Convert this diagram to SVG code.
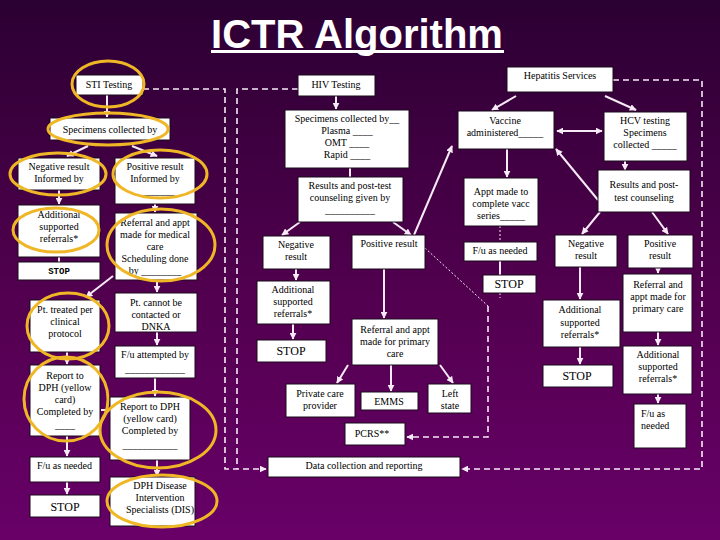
<svg xmlns="http://www.w3.org/2000/svg" width="720" height="540" viewBox="0 0 720 540">
<defs>
<linearGradient id="bg" x1="0" y1="0" x2="0" y2="1">
<stop offset="0" stop-color="#2b0032"/>
<stop offset="0.55" stop-color="#52004f"/>
<stop offset="1" stop-color="#680068"/>
</linearGradient>
<marker id="ah" viewBox="0 0 10 10" refX="9" refY="5" markerWidth="7" markerHeight="7" markerUnits="userSpaceOnUse" orient="auto-start-reverse">
<path d="M0,0 L10,5 L0,10 z" fill="#f6eaf6"/>
</marker>
<style>
.b{fill:#fff;stroke:#1a0a1a;stroke-width:1}
.t{font-family:"Liberation Serif","Times New Roman",serif;font-size:10px;fill:#000;text-anchor:middle}
.l{text-anchor:start}
.s{font-size:12px}
.m{font-family:"Liberation Mono","Courier New",monospace;font-size:9px;font-weight:bold}
.e{fill:none;stroke:#efb626;stroke-width:3}
.c{fill:none;stroke:#f6eaf6;stroke-width:2}
.a{marker-end:url(#ah)}
.d{fill:none;stroke:#f6eaf6;stroke-width:1.6;stroke-dasharray:6 4}
.dt{fill:none;stroke:#f6eaf6;stroke-width:1;stroke-dasharray:2 2}
</style>
</defs>
<rect width="720" height="540" fill="url(#bg)"/>
<g id="title">
<text x="357" y="48" font-family="Liberation Sans, Arial, sans-serif" font-size="40" font-weight="bold" fill="#fff" text-anchor="middle">ICTR Algorithm</text>
<rect x="211" y="50" width="293" height="3" fill="#fff"/>
</g>
<g id="connectors">
<path class="d" d="M143,89 H225 V469 H266" marker-end="url(#ah)"/>
<path class="d" d="M298,89 H237 V469"/>
<path class="d" d="M613,80 H702 V469 H462" marker-end="url(#ah)"/>
<path class="dt" d="M425,248 L488,306"/>
<path class="d" d="M488,306 V437 H407" marker-end="url(#ah)"/>
<path class="c a" d="M107,95 V117"/>
<path class="c a" d="M88,146 L67,156"/>
<path class="c a" d="M132,146 L157,156"/>
<path class="c a" d="M59,190 V204"/>
<path class="c" d="M59,257 V262"/>
<path class="c a" d="M155,204 V212"/>
<path class="c a" d="M113,276 L86,297"/>
<path class="c a" d="M157,280 V292"/>
<path class="c a" d="M157,332 V345"/>
<path class="c a" d="M155,378 V396"/>
<path class="c a" d="M67,352 V364"/>
<path class="c" d="M101,410 H109" stroke-width="1"/>
<path class="c a" d="M67,436 V456"/>
<path class="c a" d="M67,482 V494"/>
<path class="c a" d="M157,460 V476"/>
<path class="c a" d="M336,96 V109"/>
<path class="c" d="M350,168 V177"/>
<path class="c a" d="M300,222 L282,235"/>
<path class="c a" d="M393,222 L411,235"/>
<path class="c a" d="M414,235 L452,146"/>
<path class="c a" d="M296,269 V280"/>
<path class="c a" d="M293,324 V339"/>
<path class="c a" d="M384,269 V318"/>
<path class="c a" d="M348,365 L337,383"/>
<path class="c a" d="M391,365 V391"/>
<path class="c a" d="M440,365 L453,383"/>
<path class="c a" d="M516,96 L492,110"/>
<path class="c a" d="M605,96 L636,110"/>
<path class="c a" d="M557,131 H602" marker-start="url(#ah)"/>
<path class="c a" d="M507,149 V177"/>
<path class="dt" d="M500,226 V242" stroke-width="2"/>
<path class="c" d="M500,261 V275"/>
<path class="dt" d="M500,293 V298" stroke-width="2"/>
<path class="c a" d="M625,161 V170"/>
<path class="c a" d="M598,200 L556,149"/>
<path class="c a" d="M600,212 L582,234"/>
<path class="c a" d="M652,212 L668,234"/>
<path class="c a" d="M580,267 V299"/>
<path class="c a" d="M658,268 V273"/>
<path class="c a" d="M658,332 V345"/>
<path class="c a" d="M580,347 V364"/>
<path class="c a" d="M658,394 V403"/>
</g>
<g id="n-sti"><rect class="b" x="76" y="75" width="67" height="20"/><text class="t" x="109" y="88">STI Testing</text><ellipse class="e" cx="108" cy="84" rx="36" ry="23"/></g>
<g id="n-spec1"><rect class="b" x="50" y="118" width="120" height="22"/><text class="t" x="110" y="133">Specimens collected by</text><ellipse class="e" cx="108" cy="129" rx="60" ry="16"/></g>
<g id="n-neg1"><rect class="b" x="18" y="158" width="82" height="32"/><text class="t" x="59" y="170">Negative result</text><text class="t" x="59" y="182">Informed by</text><ellipse class="e" cx="58" cy="174" rx="48" ry="21"/></g>
<g id="n-pos1"><rect class="b" x="115" y="158" width="80" height="46"/><text class="t" x="155" y="170">Positive result</text><text class="t" x="155" y="182">Informed by</text><text class="t" x="155" y="194">________</text><ellipse class="e" cx="160" cy="174" rx="47" ry="24"/></g>
<g id="n-add1"><rect class="b" x="18" y="205" width="82" height="52"/><text class="t" x="59" y="218">Additional</text><text class="t" x="59" y="230">supported</text><text class="t" x="59" y="242">referrals*</text><ellipse class="e" cx="56" cy="230" rx="43" ry="22"/></g>
<g id="n-stop1"><rect class="b" x="18" y="262" width="82" height="18"/><text class="t m" x="59" y="274">STOP</text></g>
<g id="n-ref1"><rect class="b" x="115" y="213" width="82" height="67"/><text class="t" x="155" y="226">Referral and appt</text><text class="t" x="155" y="238">made for medical</text><text class="t" x="155" y="250">care</text><text class="t" x="155" y="262">Scheduling done</text><text class="t" x="155" y="274">by ________</text><ellipse class="e" cx="161" cy="245" rx="54" ry="36"/></g>
<g id="n-pt"><rect class="b" x="30" y="300" width="70" height="52"/><text class="t" x="65" y="313">Pt. treated per</text><text class="t" x="65" y="325">clinical</text><text class="t" x="65" y="337">protocol</text><ellipse class="e" cx="68" cy="326" rx="41" ry="33"/></g>
<g id="n-cannot"><rect class="b" x="115" y="293" width="82" height="39"/><text class="t" x="156" y="306">Pt. cannot be</text><text class="t" x="156" y="318">contacted or</text><text class="t" x="156" y="330">DNKA</text></g>
<g id="n-fuatt"><rect class="b" x="115" y="346" width="80" height="32"/><text class="t" x="155" y="358">F/u attempted by</text><text class="t" x="155" y="372">____________</text></g>
<g id="n-rep1"><rect class="b" x="30" y="365" width="70" height="71"/><text class="t" x="65" y="379">Report to</text><text class="t" x="65" y="391">DPH (yellow</text><text class="t" x="65" y="403">card)</text><text class="t" x="65" y="415">Completed by</text><text class="t" x="65" y="428">____</text><ellipse class="e" cx="66" cy="399" rx="42" ry="42"/></g>
<g id="n-rep2"><rect class="b" x="110" y="397" width="80" height="63"/><text class="t" x="150" y="410">Report to DPH</text><text class="t" x="150" y="422">(yellow card)</text><text class="t" x="150" y="434">Completed by</text><text class="t" x="150" y="448">___________</text><ellipse class="e" cx="158" cy="430" rx="58" ry="38"/></g>
<g id="n-fu1"><rect class="b" x="30" y="457" width="70" height="25"/><text class="t l" x="37" y="469">F/u as needed</text></g>
<g id="n-stop2"><rect class="b" x="30" y="495" width="70" height="22"/><text class="t s" x="65" y="511">STOP</text></g>
<g id="n-dis"><rect class="b" x="110" y="477" width="85" height="49"/><text class="t" x="160" y="489">DPH Disease</text><text class="t" x="160" y="501">Intervention</text><text class="t" x="160" y="513">Specialists (DIS)</text><ellipse class="e" cx="162" cy="501" rx="55" ry="26"/></g>
<g id="n-hiv"><rect class="b" x="298" y="75" width="77" height="21"/><text class="t" x="336" y="88">HIV Testing</text></g>
<g id="n-spec2"><rect class="b" x="285" y="110" width="124" height="58"/><text class="t" x="347" y="122">Specimens collected by__</text><text class="t" x="347" y="134">Plasma ____</text><text class="t" x="347" y="146">OMT ____</text><text class="t" x="347" y="158">Rapid ____</text></g>
<g id="n-res2"><rect class="b" x="298" y="177" width="105" height="45"/><text class="t" x="350" y="189">Results and post-test</text><text class="t" x="350" y="201">counseling given by</text><text class="t" x="350" y="213">__________</text></g>
<g id="n-neg2"><rect class="b" x="263" y="236" width="67" height="33"/><text class="t" x="296" y="248">Negative</text><text class="t" x="296" y="260">result</text></g>
<g id="n-pos2"><rect class="b" x="352" y="235" width="73" height="34"/><text class="t" x="389" y="247">Positive result</text></g>
<g id="n-add2"><rect class="b" x="257" y="281" width="73" height="43"/><text class="t" x="293" y="293">Additional</text><text class="t" x="293" y="305">supported</text><text class="t" x="293" y="317">referrals*</text></g>
<g id="n-stop3"><rect class="b" x="257" y="340" width="69" height="22"/><text class="t s" x="291" y="355">STOP</text></g>
<g id="n-ref2"><rect class="b" x="352" y="319" width="86" height="46"/><text class="t" x="395" y="333">Referral and appt</text><text class="t" x="395" y="345">made for primary</text><text class="t" x="395" y="357">care</text></g>
<g id="n-priv"><rect class="b" x="286" y="384" width="69" height="33"/><text class="t" x="320" y="397">Private care</text><text class="t" x="320" y="409">provider</text></g>
<g id="n-emms"><rect class="b" x="361" y="392" width="57" height="18"/><text class="t" x="389" y="405">EMMS</text></g>
<g id="n-left"><rect class="b" x="428" y="384" width="43" height="29"/><text class="t" x="450" y="397">Left</text><text class="t" x="450" y="409">state</text></g>
<g id="n-pcrs"><rect class="b" x="345" y="423" width="60" height="22"/><text class="t" x="372" y="437">PCRS**</text></g>
<g id="n-data"><rect class="b" x="268" y="457" width="192" height="20"/><text class="t" x="364" y="469">Data collection and reporting</text></g>
<g id="n-hep"><rect class="b" x="507" y="67" width="106" height="25"/><text class="t" x="560" y="79">Hepatitis Services</text></g>
<g id="n-vacc"><rect class="b" x="458" y="111" width="96" height="38"/><text class="t" x="505" y="124">Vaccine</text><text class="t" x="505" y="136">administered_____</text></g>
<g id="n-hcv"><rect class="b" x="604" y="112" width="83" height="49"/><text class="t" x="645" y="124">HCV testing</text><text class="t" x="645" y="136">Specimens</text><text class="t" x="645" y="148">collected _____</text></g>
<g id="n-appt"><rect class="b" x="464" y="178" width="74" height="48"/><text class="t" x="501" y="195">Appt made to</text><text class="t" x="501" y="207">complete vacc</text><text class="t" x="501" y="219">series_____</text></g>
<g id="n-fu3"><rect class="b" x="464" y="242" width="73" height="19"/><text class="t" x="500" y="254">F/u as needed</text></g>
<g id="n-stop4"><rect class="b" x="483" y="275" width="53" height="18"/><text class="t s" x="509" y="288">STOP</text></g>
<g id="n-res3"><rect class="b" x="598" y="170" width="92" height="42"/><text class="t" x="644" y="188">Results and post-</text><text class="t" x="644" y="201">test counseling</text></g>
<g id="n-neg3"><rect class="b" x="555" y="235" width="62" height="32"/><text class="t" x="586" y="247">Negative</text><text class="t" x="586" y="259">result</text></g>
<g id="n-pos3"><rect class="b" x="628" y="235" width="65" height="33"/><text class="t" x="660" y="247">Positive</text><text class="t" x="660" y="259">result</text></g>
<g id="n-add3"><rect class="b" x="543" y="300" width="77" height="47"/><text class="t" x="580" y="313">Additional</text><text class="t" x="580" y="326">supported</text><text class="t" x="580" y="338">referrals*</text></g>
<g id="n-stop5"><rect class="b" x="543" y="365" width="70" height="22"/><text class="t s" x="577" y="380">STOP</text></g>
<g id="n-ref3"><rect class="b" x="623" y="274" width="69" height="58"/><text class="t" x="658" y="288">Referral and</text><text class="t" x="658" y="300">appt made for</text><text class="t" x="658" y="312">primary care</text></g>
<g id="n-add4"><rect class="b" x="623" y="346" width="69" height="48"/><text class="t" x="658" y="358">Additional</text><text class="t" x="658" y="370">supported</text><text class="t" x="658" y="382">referrals*</text></g>
<g id="n-fu4"><rect class="b" x="634" y="404" width="52" height="44"/><text class="t l" x="641" y="417">F/u as</text><text class="t l" x="641" y="429">needed</text></g>
</svg>
